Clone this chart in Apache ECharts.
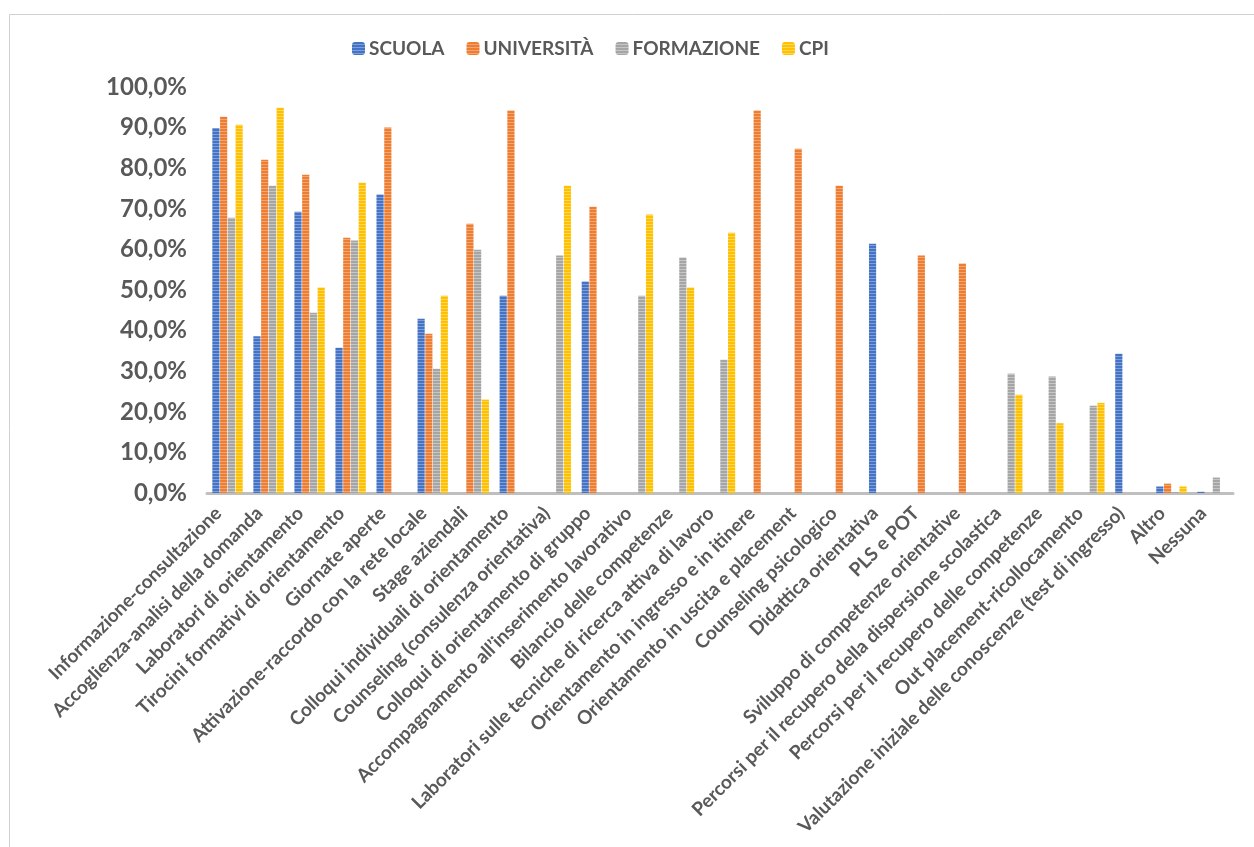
<!DOCTYPE html>
<html>
<head>
<meta charset="utf-8">
<script src="https://cdn.jsdelivr.net/npm/echarts@6/dist/echarts.min.js"></script>
<style>
  html, body { margin: 0; padding: 0; background: #fff; }
  #chart { width: 1254px; height: 847px; }
</style>
</head>
<body>
<div id="chart"></div>
<script>
// categories on the x axis
const categories = [
    "Informazione-consultazione",
    "Accoglienza-analisi della domanda",
    "Laboratori di orientamento",
    "Tirocini formativi di orientamento",
    "Giornate aperte",
    "Attivazione-raccordo con la rete locale",
    "Stage aziendali",
    "Colloqui individuali di orientamento",
    "Counseling (consulenza orientativa)",
    "Colloqui di orientamento di gruppo",
    "Accompagnamento all’inserimento lavorativo",
    "Bilancio delle competenze",
    "Laboratori sulle tecniche di ricerca attiva di lavoro",
    "Orientamento in ingresso e in itinere",
    "Orientamento in uscita e placement",
    "Counseling psicologico",
    "Didattica orientativa",
    "PLS e POT",
    "Sviluppo di competenze orientative",
    "Percorsi per il recupero della dispersione scolastica",
    "Percorsi per il recupero delle competenze",
    "Out placement-ricollocamento",
    "Valutazione iniziale delle conoscenze (test di ingresso)",
    "Altro",
    "Nessuna"
];

// percentages (null = no bar)
const scuola = [89.9, 38.6, 69.3, 35.8, 73.5, 42.9, null, 48.6, null, 52.1, null, null, null, null, null, null, 61.4, null, null, null, null, null, 34.3, 1.6, 0.3];
const universita = [92.7, 82.1, 78.4, 62.9, 90.0, 39.2, 66.3, 94.2, null, 70.5, null, null, null, 94.2, 84.8, 75.7, null, 58.5, 56.5, null, null, null, null, 2.3, null];
const formazione = [67.8, 75.7, 44.4, 62.2, null, 30.6, 59.9, null, 58.5, null, 48.6, 58.0, 32.8, null, null, null, null, null, null, 29.4, 28.7, 21.5, null, 0.2, 3.8];
const cpi = [90.7, 94.9, 50.6, 76.4, null, 48.6, 23.0, null, 75.7, null, 68.6, 50.6, 64.1, null, null, null, null, null, null, 24.2, 17.2, 22.2, null, 1.6, null];

const seriesNames = ["SCUOLA", "UNIVERSITÀ", "FORMAZIONE", "CPI"];
const seriesColors = ["#4472C4", "#ED7D31", "#A5A5A5", "#FFC000"];
const seriesLight = ["#7f9fd8", "#f3a673", "#c6c6c6", "#ffd65c"];

// striped fill like the excel pattern
function stripes(main, light) {
    const c = document.createElement("canvas");
    c.width = 4;
    c.height = 3;
    const ctx = c.getContext("2d");
    ctx.fillStyle = main;
    ctx.fillRect(0, 0, 4, 3);
    ctx.fillStyle = light;
    ctx.fillRect(0, 2, 4, 1);
    return { image: c, repeat: "repeat" };
}

const allData = [scuola, universita, formazione, cpi];
const series = allData.map((vals, i) => ({
    name: seriesNames[i],
    type: "bar",
    data: vals,
    barGap: "8%",
    barCategoryGap: "26%",
    itemStyle: { color: stripes(seriesColors[i], seriesLight[i]) },
    emphasis: { disabled: true }
}));

const chart = echarts.init(document.getElementById("chart"));
chart.setOption({
    animation: false,
    textStyle: { fontFamily: "Lato" },
    graphic: [{
        type: "rect",
        shape: { x: 9.5, y: 14.5, width: 1400, height: 1000 },
        style: { fill: "none", stroke: "#d0d0d0", lineWidth: 1 },
        silent: true
    }],
    legend: {
        top: 34,
        left: 347,
        itemWidth: 13,
        itemHeight: 13,
        itemGap: 22,
        textStyle: { fontSize: 19, fontWeight: "bold", color: "#595959", fontFamily: "Lato", padding: [0, 0, 0, -1] },
        data: seriesNames
    },
    grid: { left: 207, right: 21, top: 87, bottom: 354, containLabel: false },
    xAxis: {
        type: "category",
        data: categories,
        axisLine: { lineStyle: { color: "#BFBFBF", width: 3 } },
        axisTick: { show: false },
        axisLabel: {
            interval: 0,
            rotate: 45,
            margin: 8,
            padding: [0, 13, 0, 0],
            fontSize: 19,
            fontWeight: "bold",
            color: "#595959",
            fontFamily: "Lato"
        }
    },
    yAxis: {
        type: "value",
        min: 0,
        max: 100,
        interval: 10,
        axisLine: { show: false },
        axisTick: { show: false },
        splitLine: { show: false },
        axisLabel: {
            margin: 20,
            fontSize: 24,
            fontWeight: "bold",
            color: "#595959",
            fontFamily: "Lato",
            formatter: v => v.toFixed(1).replace(".", ",") + "%"
        }
    },
    series: series
});
</script>
</body>
</html>
